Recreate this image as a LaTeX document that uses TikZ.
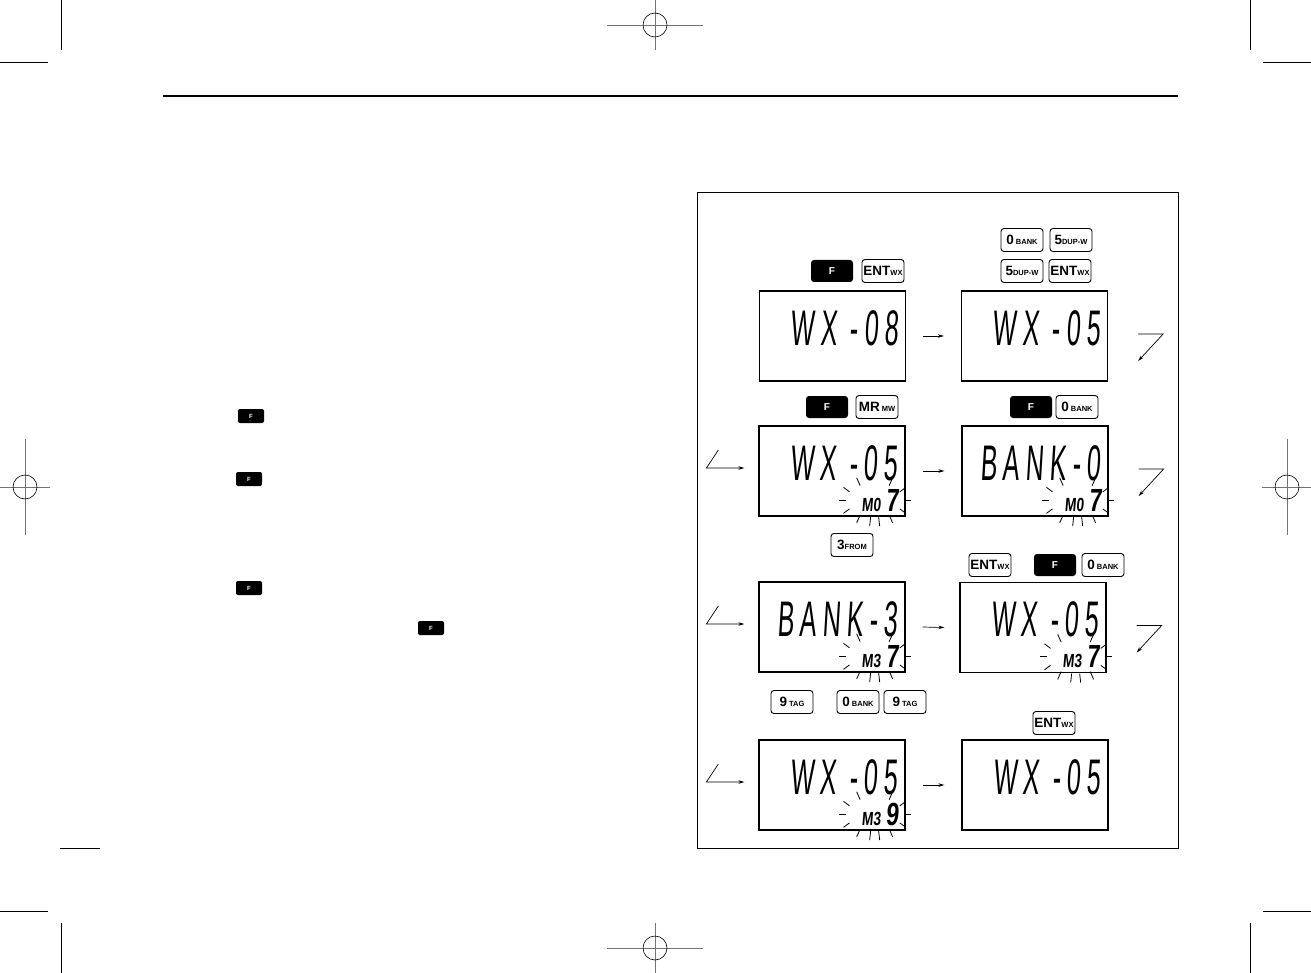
\documentclass[tikz,border=0pt]{standalone}
\usepackage{fontspec}
\setmainfont{Liberation Sans}
\newfontfamily\lcdfont[FakeSlant=0.12, LetterSpace=24]{Liberation Sans}
\newfontfamily\memfont[FakeSlant=0.12]{Liberation Sans}
\usepackage{tikz}
\usetikzlibrary{arrows.meta}

\tikzset{
  key/.style={draw, line width=0.9pt, rounded corners=3pt, minimum width=42pt, minimum height=23pt, inner sep=1pt},
  fkey/.style={fill=black, text=white, rounded corners=3pt, minimum width=42pt, minimum height=22pt, font=\fontsize{10}{10}\selectfont\bfseries},
  smallf/.style={fill=black, text=white, rounded corners=2pt, minimum width=26pt, minimum height=14pt, inner sep=0pt, font=\fontsize{6}{6}\selectfont\bfseries},
  lcdbox/.style={draw, line width=1.3pt, minimum width=146pt, minimum height=90pt, inner sep=0pt},
  lcdtext/.style={inner sep=0pt, anchor=base east},
  arr/.style={line width=0.7pt, -{Stealth[length=6pt,width=3.5pt]}},
  ray/.style={line width=0.8pt},
  regline/.style={line width=0.6pt, black!55}
}
\newcommand\keylabel[2]{{\fontsize{13.5}{13.5}\selectfont\bfseries #1}{\fontsize{7.5}{7.5}\selectfont\bfseries #2}}
\newcommand\bigline[1]{\scalebox{0.5}[1]{\lcdfont\fontsize{50}{50}\selectfont #1}}
\newcommand\memline[2]{\scalebox{0.72}[1]{\memfont\bfseries\fontsize{19}{19}\selectfont #1\hspace{7pt}\fontsize{32}{32}\selectfont #2}}
\newcommand\flashrays[1]{%
  \begin{scope}[shift={(#1)}]
    \foreach \a in {0,30,60,82,98,120,150,180,210,240,300,330}
      \draw[ray] (\a:29 and 17) -- (\a:36 and 26);
  \end{scope}}
\newcommand\regmark[2]{%
  \begin{scope}[shift={(#1)}, rotate=#2]
    \draw[regline] (-48,0) -- (48,0);
    \draw[regline] (0,-25) -- (0,25);
    \draw[line width=0.6pt] (0,0) circle[radius=12];
  \end{scope}}

\begin{document}
\begin{tikzpicture}[x=1pt, y=-1pt]
\useasboundingbox (0,0) rectangle (1311,973);
% Crop marks
\draw[line width=0.7pt] (61,0) -- (61,50) (0,62) -- (48,62);
\draw[line width=0.7pt] (1250,0) -- (1250,50) (1263,62) -- (1311,62);
\draw[line width=0.7pt] (61,923) -- (61,973) (0,911) -- (48,911);
\draw[line width=0.7pt] (1250,923) -- (1250,973) (1263,911) -- (1311,911);
\regmark{655,25}{0}
\regmark{655,948}{0}
\regmark{25,487}{90}
\regmark{1287,487}{90}
% Header rule
\draw[line width=1.6pt] (163,96) -- (1178,96);
\draw[line width=0.8pt] (60,848) -- (100,848);
% Keys in the text
\node[smallf] (tf1) at (251,416) {F};
\node[smallf] (tf2) at (249,479) {F};
\node[smallf] (tf3) at (249,588) {F};
\node[smallf] (tf4) at (431,628) {F};
% Panel
\draw[line width=0.8pt] (697,192) rectangle (1178,848);
% Displays
\node[lcdbox] (lcdA) at (832.5,336) {};
\node[lcdbox] (lcdB) at (1034.5,336) {};
\node[lcdbox] (lcdC) at (832,471) {};
\node[lcdbox] (lcdD) at (1035,471) {};
\node[lcdbox] (lcdE) at (832,627) {};
\node[lcdbox] (lcdF) at (1033,627.5) {};
\node[lcdbox] (lcdG) at (832,785) {};
\node[lcdbox] (lcdH) at (1035,785) {};
% Display readouts
\node[lcdtext] (txA) at ([xshift=-8pt,yshift=-55pt]lcdA.north east) {\bigline{WX -08}};
\node[lcdtext] (txB) at ([xshift=-8pt,yshift=-55pt]lcdB.north east) {\bigline{WX -05}};
\node[lcdtext] (txC) at ([xshift=-8pt,yshift=-55pt]lcdC.north east) {\bigline{WX -05}};
\node[lcdtext] (txD) at ([xshift=-8pt,yshift=-55pt]lcdD.north east) {\bigline{BANK-0}};
\node[lcdtext] (txE) at ([xshift=-8pt,yshift=-55pt]lcdE.north east) {\bigline{BANK-3}};
\node[lcdtext] (txF) at ([xshift=-8pt,yshift=-55pt]lcdF.north east) {\bigline{WX -05}};
\node[lcdtext] (txG) at ([xshift=-8pt,yshift=-55pt]lcdG.north east) {\bigline{WX -05}};
\node[lcdtext] (txH) at ([xshift=-8pt,yshift=-55pt]lcdH.north east) {\bigline{WX -05}};
% Memory lines
\node[lcdtext] (mC) at ([xshift=-7pt,yshift=-86pt]lcdC.north east) {\memline{M0}{7}};
\node[lcdtext] (mD) at ([xshift=-7pt,yshift=-86pt]lcdD.north east) {\memline{M0}{7}};
\node[lcdtext] (mE) at ([xshift=-7pt,yshift=-86pt]lcdE.north east) {\memline{M3}{7}};
\node[lcdtext] (mF) at ([xshift=-7pt,yshift=-86pt]lcdF.north east) {\memline{M3}{7}};
\node[lcdtext] (mG) at ([xshift=-7pt,yshift=-86pt]lcdG.north east) {\memline{M3}{9}};
% Blinking
\foreach \d in {C,D,E,F,G}
  \coordinate (fl\d) at ([xshift=-31pt,yshift=-75pt]lcd\d.north east);
\flashrays{flC}
\flashrays{flD}
\flashrays{flE}
\flashrays{flF}
\flashrays{flG}
% Keys, step 1
\node[fkey] (kF1) at (832,271) {F};
\node[key] (kEnt1) at (883,271) {\keylabel{ENT}{WX}};
\node[key] (kBank1) at (1022,240) {\keylabel{0}{ BANK}};
\node[key] (kDup1) at (1071,240) {\keylabel{5}{DUP-W}};
\node[key] (kDup2) at (1022,271) {\keylabel{5}{DUP-W}};
\node[key] (kEnt2) at (1070,271) {\keylabel{ENT}{WX}};
% Keys, step 2
\node[fkey] (kF2) at (827,407) {F};
\node[key] (kMr) at (877,407) {\keylabel{MR}{ MW}};
\node[fkey] (kF3) at (1031,407) {F};
\node[key] (kBank2) at (1077,407) {\keylabel{0}{ BANK}};
% Keys, step 3
\node[key] (kFrom) at (852,545) {\keylabel{3}{FROM}};
\node[key] (kEnt3) at (990,565) {\keylabel{ENT}{WX}};
\node[fkey] (kF4) at (1055,565) {F};
\node[key] (kBank3) at (1103,565) {\keylabel{0}{ BANK}};
% Keys, step 4
\node[key] (kTag1) at (792,702) {\keylabel{9}{ TAG}};
\node[key] (kBank4) at (858,702) {\keylabel{0}{ BANK}};
\node[key] (kTag2) at (905,702) {\keylabel{9}{ TAG}};
\node[key] (kEnt4) at (1054,723) {\keylabel{ENT}{WX}};
% Arrows between displays
\draw[arr] ([xshift=17pt]lcdA.east) -- ([xshift=-17pt]lcdB.west);
\draw[arr] ([xshift=17pt]lcdC.east) -- ([xshift=-17pt]lcdD.west);
\draw[arr] ([xshift=17pt]lcdE.east) -- ([xshift=-15pt]lcdF.west);
\draw[arr] ([xshift=17pt]lcdG.east) -- ([xshift=-17pt]lcdH.west);
% Turn arrows, right side
\foreach \d in {B,D,F}
  \draw[arr] ([xshift=30pt,yshift=2pt]lcd\d.east) -- ++(25,0) -- ++(-25,27);
% Turn arrows, left side
\foreach \d in {C,E,G}
  \draw[arr] ([xshift=-40pt,yshift=21pt]lcd\d.west) -- ++(-12,18) -- ++(38,0);
\end{tikzpicture}
\end{document}
